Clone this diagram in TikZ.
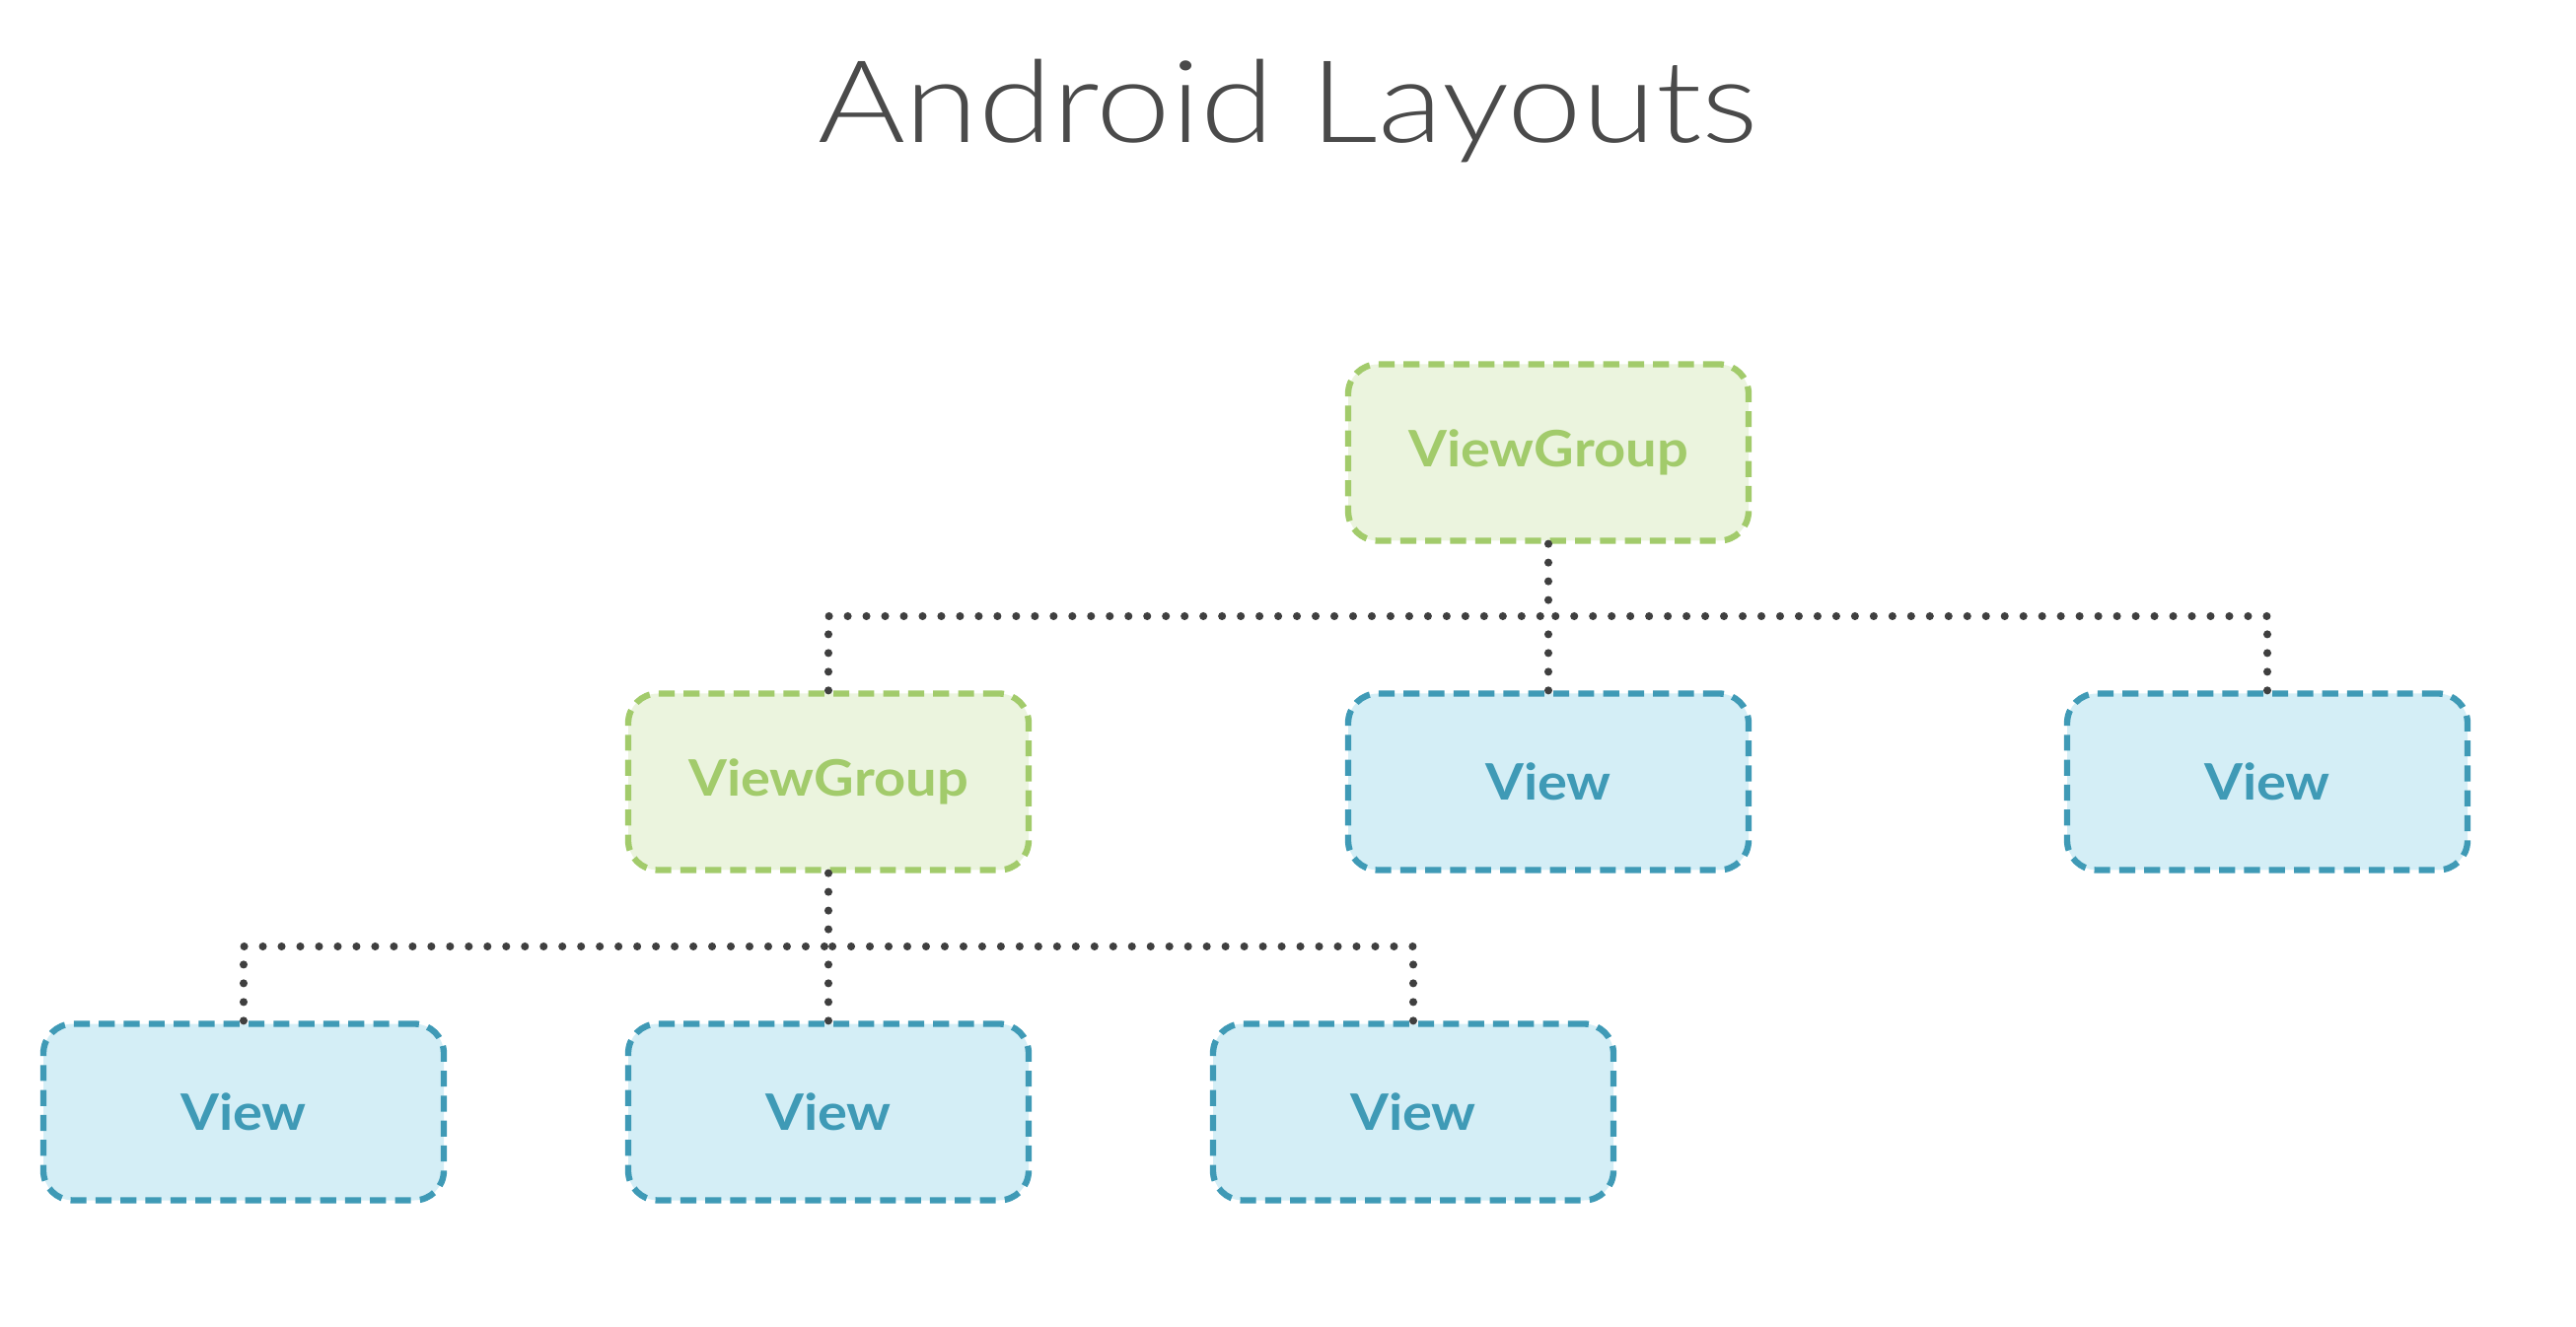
\documentclass[tikz,border=0pt]{standalone}
\usepackage{fontspec}
\setmainfont{Lato}
\newfontfamily\titlefont{Lato Light}[FakeStretch=1.17]
\newfontfamily\boxfont{Lato}[FakeStretch=1.1]
\usetikzlibrary{positioning}

\definecolor{grnline}{HTML}{A2CB6B}
\definecolor{grnfill}{HTML}{EBF4DE}
\definecolor{blueline}{HTML}{3F9AB6}
\definecolor{bluefill}{HTML}{D4EEF6}
\definecolor{dotgray}{HTML}{3F3F3F}
\definecolor{titlegray}{HTML}{4A4A4A}

\tikzset{
  box/.style={draw, line width=1.8pt, dash pattern=on 4.6pt off 2.6pt, rounded corners=0.3cm,
    minimum width=4.06cm, minimum height=1.79cm, font=\boxfont\fontsize{14.5}{16}\selectfont\bfseries},
  groupbox/.style={box, draw=grnline, fill=grnfill, text=grnline},
  viewbox/.style={box, draw=blueline, fill=bluefill, text=blueline},
  link/.style={draw=dotgray, line width=2.3pt, line cap=round, dash pattern=on 0pt off 5.4pt}
}

\begin{document}
\begin{tikzpicture}
  \useasboundingbox (0,0) rectangle (26.12,-13.46);
  \node[anchor=base, text=titlegray, font=\titlefont\fontsize{33}{40}\selectfont] (title) at (13.06,-1.45) {Android Layouts};

  % top level
  \node[groupbox] (vg) at (15.70,-4.59) {ViewGroup};

  % second level
  \node[groupbox] (g1) at (8.40,-7.93) {ViewGroup};
  \foreach \x [count=\xi] in {15.70, 22.99}
    \node[viewbox] (v\xi) at (\x,-7.93) {View};

  % third level
  \foreach \x [count=\xi] in {2.47, 8.40, 14.33}
    \node[viewbox] (w\xi) at (\x,-11.28) {View};

  % connectors
  \coordinate (bus1) at (15.70,-6.25);
  \coordinate (bus2) at (8.40,-9.60);
  \draw[link] (vg.south) -- (bus1);
  \foreach \n in {g1, v1, v2}
    \draw[link] (\n.north) |- (bus1);
  \draw[link] (g1.south) -- (bus2);
  \foreach \n in {w1, w2, w3}
    \draw[link] (\n.north) |- (bus2);
\end{tikzpicture}
\end{document}
